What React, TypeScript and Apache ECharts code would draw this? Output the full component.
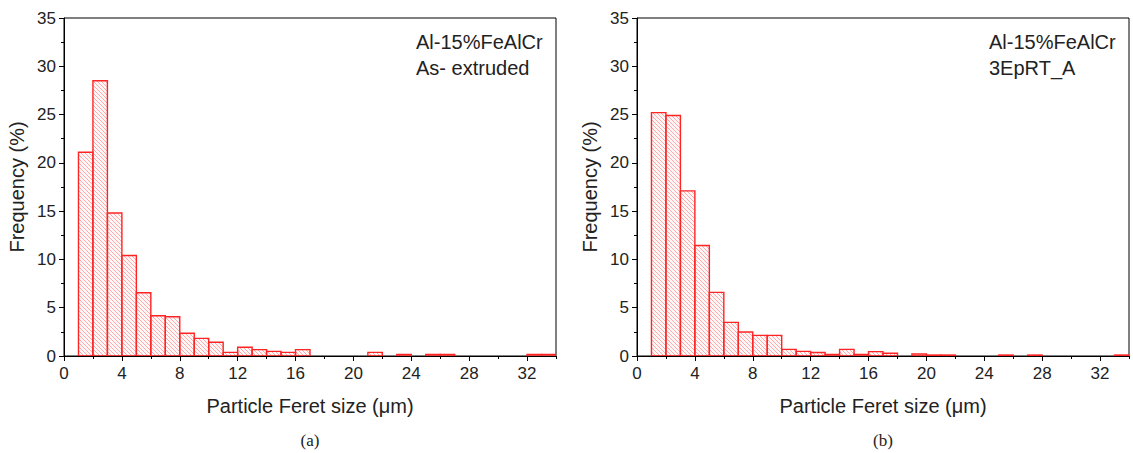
import React, { useEffect, useRef } from 'react';
import * as echarts from 'echarts';

// Bin edges (μm) of the histograms
const binStart = [1, 2, 3, 4, 5, 6, 7, 8, 9, 10, 11, 12, 13, 14, 15, 16, 17, 18, 19, 20, 21, 22, 23, 24, 25, 26, 27, 28, 29, 30, 31, 32, 33];
const binEnd = [2, 3, 4, 5, 6, 7, 8, 9, 10, 11, 12, 13, 14, 15, 16, 17, 18, 19, 20, 21, 22, 23, 24, 25, 26, 27, 28, 29, 30, 31, 32, 33, 34];

// (a) Al-15%FeAlCr, As- extruded — frequency (%)
const freqExtruded = [21.1, 28.5, 14.8, 10.4, 6.55, 4.17, 4.07, 2.35, 1.83, 1.42, 0.38, 0.9, 0.66, 0.48, 0.38, 0.66, 0, 0, 0, 0, 0.38, 0, 0.17, 0, 0.17, 0.17, 0, 0, 0, 0, 0, 0.17, 0.17];
// (b) Al-15%FeAlCr, 3EpRT_A — frequency (%)
const freqEpRT = [25.2, 24.9, 17.1, 11.45, 6.59, 3.48, 2.48, 2.14, 2.14, 0.69, 0.48, 0.36, 0.17, 0.69, 0.17, 0.45, 0.28, 0, 0.2, 0.1, 0.1, 0, 0, 0, 0.1, 0, 0.1, 0, 0, 0, 0, 0, 0.1];

const labelsA = ['Al-15%FeAlCr', 'As- extruded'];
const labelsB = ['Al-15%FeAlCr', '3EpRT_A'];
const captions = ['(a)', '(b)'];

const FONT = '"Liberation Sans", Arial, sans-serif';
const SERIF = '"Liberation Serif", "Times New Roman", serif';
const RED = '#ff2424';
const HATCH = 'rgba(255,60,60,0.6)';
const STEP = 4;

function renderBar(params: any, api: any) {
  const s = api.value(0);
  const e = api.value(1);
  const v = api.value(2);
  if (!v) return null;
  const p0 = api.coord([s, v]);
  const p1 = api.coord([e, 0]);
  const x0 = p0[0], y0 = p0[1], x1 = p1[0], y1 = p1[1];
  const children: any[] = [];
  children.push({
    type: 'rect',
    shape: { x: x0, y: y0, width: x1 - x0, height: y1 - y0 },
    style: { fill: 'rgba(255,215,215,0.2)', stroke: 'none' },
  });
  const kMin = y0 - x1;
  const kMax = y1 - x0;
  let k = Math.ceil(kMin / STEP) * STEP;
  for (; k <= kMax; k += STEP) {
    const lo = Math.max(x0, y0 - k);
    const hi = Math.min(x1, y1 - k);
    if (hi - lo > 0.3) {
      children.push({
        type: 'line',
        shape: { x1: lo, y1: lo + k, x2: hi, y2: hi + k },
        style: { stroke: HATCH, lineWidth: 0.7 },
        silent: true,
      });
    }
  }
  children.push({
    type: 'rect',
    shape: { x: x0, y: y0, width: x1 - x0, height: y1 - y0 },
    style: { fill: 'none', stroke: RED, lineWidth: 1.4 },
  });
  return { type: 'group', children };
}

function buildData(vals: number[]) {
  return vals.map((v, i) => [binStart[i], binEnd[i], v]);
}

export default function App() {
  const ref = useRef<HTMLDivElement>(null);
  useEffect(() => {
    if (!ref.current) return;
    const chart = echarts.init(ref.current, null, { renderer: 'svg' });
    const grids = [
      { left: 64, top: 18, width: 492, height: 338 },
      { left: 637, top: 18, width: 492, height: 338 },
    ];
    const xMain = (gi: number) => ({
      type: 'value',
      gridIndex: gi,
      min: 0,
      max: 34,
      interval: 4,
      name: 'Particle Feret size (μm)',
      nameLocation: 'middle',
      nameGap: 40,
      nameTextStyle: { fontSize: 20, color: '#222', fontFamily: FONT },
      axisLine: { show: true, lineStyle: { color: '#000', width: 1 } },
      axisTick: { show: true, length: 5, lineStyle: { color: '#000' } },
      axisLabel: { fontSize: 17, color: '#222', fontFamily: FONT, margin: 9, showMaxLabel: false },
      splitLine: { show: false },
    });
    const xMinor = (gi: number) => ({
      type: 'value',
      gridIndex: gi,
      min: 0,
      max: 34,
      interval: 2,
      position: 'bottom',
      axisLine: { show: false },
      axisTick: { show: true, length: 3, lineStyle: { color: '#000' } },
      axisLabel: { show: false },
      splitLine: { show: false },
    });
    const yAxis = (gi: number) => ({
      type: 'value',
      gridIndex: gi,
      min: 0,
      max: 35,
      interval: 5,
      name: 'Frequency (%)',
      nameLocation: 'middle',
      nameGap: 37,
      nameTextStyle: { fontSize: 20, color: '#222', fontFamily: FONT },
      axisLine: { show: true, lineStyle: { color: '#000', width: 1 } },
      axisTick: { show: true, length: 5, lineStyle: { color: '#000' } },
      minorTick: { show: true, splitNumber: 2, length: 3, lineStyle: { color: '#000' } },
      axisLabel: { fontSize: 17, color: '#222', fontFamily: FONT, margin: 8 },
      splitLine: { show: false },
      minorSplitLine: { show: false },
    });
    const txt = (x: number, y: number, t: string) => ({
      type: 'text',
      x,
      y,
      style: { text: t, fontSize: 20, fontFamily: FONT, fill: '#222', textVerticalAlign: 'middle' },
    });
    const cap = (x: number, t: string) => ({
      type: 'text',
      x,
      y: 440,
      style: { text: t, fontSize: 17, fontFamily: SERIF, fill: '#222', textAlign: 'center', textVerticalAlign: 'middle' },
    });
    chart.setOption({
      animation: false,
      backgroundColor: '#fff',
      grid: grids.map((g) => ({ ...g, show: true, borderColor: '#000', borderWidth: 1, backgroundColor: 'transparent' })),
      xAxis: [xMain(0), xMinor(0), xMain(1), xMinor(1)],
      yAxis: [yAxis(0), yAxis(1)],
      series: [
        {
          type: 'custom',
          xAxisIndex: 0,
          yAxisIndex: 0,
          renderItem: renderBar,
          data: buildData(freqExtruded),
          encode: { x: [0, 1], y: 2 },
          clip: true,
        },
        {
          type: 'custom',
          xAxisIndex: 2,
          yAxisIndex: 1,
          renderItem: renderBar,
          data: buildData(freqEpRT),
          encode: { x: [0, 1], y: 2 },
          clip: true,
        },
      ],
      graphic: [
        txt(416, 42, labelsA[0]),
        txt(416, 68, labelsA[1]),
        txt(989, 42, labelsB[0]),
        txt(989, 68, labelsB[1]),
        cap(310, captions[0]),
        cap(883, captions[1]),
      ],
    });
    return () => chart.dispose();
  }, []);
  return <div ref={ref} style={{ position: 'absolute', left: 0, top: 0, width: 1133, height: 453 }} />;
}
